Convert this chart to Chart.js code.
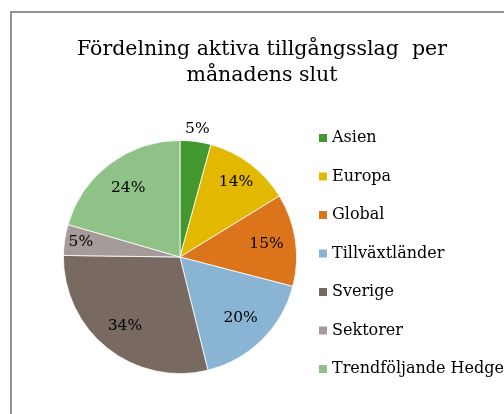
<!DOCTYPE html>
<html><head><meta charset="utf-8">
<script src="https://cdn.jsdelivr.net/npm/chart.js@4/dist/chart.umd.min.js"></script>
<style>
html,body{margin:0;padding:0;background:#fff;overflow:hidden;}
#wrap{position:relative;width:504px;height:414px;}
#frame{position:absolute;left:10px;top:11px;width:600px;height:500px;border-left:2px solid #929292;border-top:2px solid #929292;box-sizing:border-box;}
canvas{position:absolute;left:0;top:0;}
</style></head><body>
<div id="wrap"><div id="frame"></div><canvas id="c" width="504" height="414"></canvas></div>
<script>
const titleLines = ["Fördelning aktiva tillgångsslag  per", "månadens slut"];
const categories = ["Asien", "Europa", "Global", "Tillväxtländer", "Sverige", "Sektorer", "Trendföljande Hedge"];
const values = [5, 14, 15, 20, 34, 5, 24];
const colors = ["#43992f", "#e2b800", "#dc741c", "#8ab4d4", "#786a60", "#a59c99", "#8ec287"];
const labelRadius = [1.11, 0.8, 0.75, 0.74, 0.76, 0.86, 0.74];

const serif = "'DejaVu Serif', 'Liberation Serif', serif";

const overlay = {
  id: 'overlay',
  afterDraw(chart) {
    const ctx = chart.ctx;
    ctx.save();
    ctx.fillStyle = '#000';
    ctx.textAlign = 'center';
    ctx.textBaseline = 'alphabetic';
    ctx.font = "20.5px " + serif;
    ctx.fillText(titleLines[0], 262, 55);
    ctx.fillText(titleLines[1], 262, 81);
    // data labels
    const meta = chart.getDatasetMeta(0);
    ctx.font = "15.5px " + serif;
    ctx.textBaseline = 'middle';
    meta.data.forEach((arc, i) => {
      const p = arc.getProps(['x','y','startAngle','endAngle','outerRadius'], true);
      const mid = (p.startAngle + p.endAngle) / 2;
      const r = p.outerRadius * labelRadius[i];
      ctx.fillText(values[i] + '%', p.x + Math.cos(mid) * r, p.y + Math.sin(mid) * r);
    });
    // legend
    ctx.textAlign = 'left';
    ctx.font = "16px " + serif;
    categories.forEach((c, i) => {
      const y = 138 + i * 38.5;
      ctx.fillStyle = colors[i];
      ctx.fillRect(319, y - 4, 8, 8);
      ctx.fillStyle = '#000';
      ctx.fillText(c, 332, y);
    });
    ctx.restore();
  }
};

new Chart(document.getElementById('c'), {
  type: 'pie',
  data: { labels: categories, datasets: [{ data: values, backgroundColor: colors, borderColor: '#fff', borderWidth: 0.8 }] },
  options: {
    responsive: false, animation: false,
    layout: { padding: { left: 63, top: 140, right: 207, bottom: 40 } },
    plugins: { legend: { display: false }, tooltip: { enabled: false }, title: { display: false } }
  },
  plugins: [overlay]
});
</script>
</body></html>
